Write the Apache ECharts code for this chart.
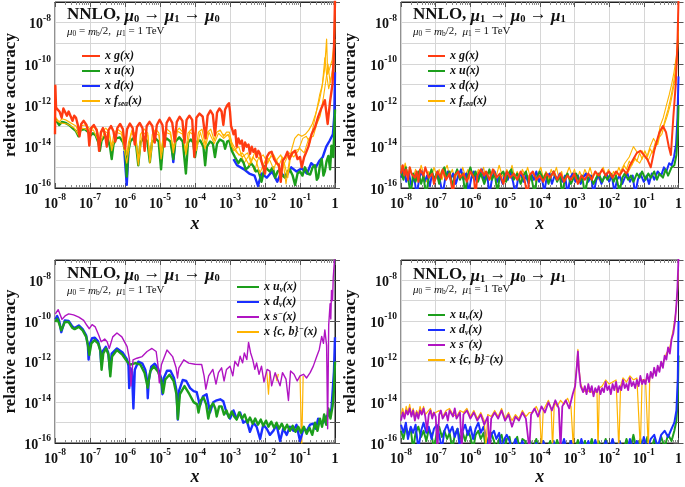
<!DOCTYPE html>
<html><head><meta charset="utf-8">
<script src="https://cdn.jsdelivr.net/npm/echarts@6/dist/echarts.min.js"></script>
<style>html,body{margin:0;padding:0;background:#fff}#c{width:685px;height:487px}</style>
</head><body><div id="c"></div>
<script>
// ---- data: [log10(x), log10(relative accuracy)] ----
const xTickExps = [-8,-7,-6,-5,-4,-3,-2,-1,0];
const yLabelExps = [-8,-10,-12,-14,-16];

// Top-left: mu0 -> mu1 -> mu0
const TL_xg = [[-8.00,-13.4],[-7.99,-11.05],[-7.97,-12.1],[-7.93,-12.2],[-7.87,-12.3],[-7.81,-12.6],[-7.76,-12.15],[-7.71,-12.15],[-7.66,-12.5],[-7.61,-12.3],[-7.56,-12.35],[-7.50,-12.75],[-7.45,-12.5],[-7.40,-12.6],[-7.34,-13.0],[-7.30,-13.5],[-7.25,-12.9],[-7.18,-12.75],[-7.10,-12.95],[-7.05,-13.3],[-7.02,-13.95],[-6.97,-13.1],[-6.89,-12.95],[-6.81,-13.2],[-6.77,-13.6],[-6.74,-14.2],[-6.69,-13.3],[-6.63,-13.1],[-6.57,-13.4],[-6.52,-14.0],[-6.47,-13.2],[-6.40,-13.0],[-6.33,-13.25],[-6.28,-13.75],[-6.22,-13.1],[-6.14,-12.9],[-6.06,-13.15],[-6.00,-14.1],[-5.94,-13.15],[-5.86,-12.88],[-5.78,-13.1],[-5.72,-13.9],[-5.66,-13.05],[-5.58,-12.85],[-5.50,-13.1],[-5.44,-14.2],[-5.38,-13.0],[-5.30,-12.8],[-5.22,-13.0],[-5.15,-13.8],[-5.09,-12.95],[-5.01,-12.7],[-4.93,-12.95],[-4.87,-14.0],[-4.81,-12.85],[-4.73,-12.6],[-4.65,-12.85],[-4.58,-13.75],[-4.52,-12.8],[-4.44,-12.55],[-4.36,-12.75],[-4.30,-13.8],[-4.24,-12.7],[-4.16,-12.5],[-4.08,-12.7],[-4.02,-14.5],[-3.96,-12.6],[-3.87,-12.4],[-3.78,-12.55],[-3.70,-13.6],[-3.64,-12.5],[-3.56,-12.25],[-3.49,-12.45],[-3.43,-13.45],[-3.37,-12.35],[-3.30,-12.15],[-3.24,-12.3],[-3.19,-12.95],[-3.14,-12.2],[-3.08,-12.0],[-3.03,-11.9],[-3.00,-12.3],[-2.97,-13.0],[-2.93,-13.2],[-2.90,-13.4],[-2.85,-13.2],[-2.81,-14.0],[-2.76,-13.6],[-2.71,-13.85],[-2.66,-13.7],[-2.62,-14.2],[-2.57,-13.8],[-2.52,-14.0],[-2.47,-13.9],[-2.43,-14.35],[-2.38,-14.0],[-2.33,-14.25],[-2.28,-14.1],[-2.24,-14.5],[-2.19,-14.2],[-2.14,-14.35],[-2.10,-14.7],[-2.05,-14.65],[-2.00,-15.3],[-1.95,-14.5],[-1.88,-14.3],[-1.81,-14.25],[-1.74,-14.6],[-1.67,-14.8],[-1.60,-14.9],[-1.55,-15.7],[-1.50,-14.7],[-1.42,-14.5],[-1.36,-14.25],[-1.30,-14.6],[-1.22,-14.3],[-1.14,-14.2],[-1.07,-14.6],[-1.00,-14.5],[-0.95,-15.0],[-0.88,-14.5],[-0.83,-14.3],[-0.76,-14.0],[-0.67,-13.4],[-0.57,-13.05],[-0.48,-12.55],[-0.38,-12.1],[-0.29,-11.75],[-0.21,-12.9],[-0.14,-11.8],[-0.07,-10.95],[-0.03,-9.35],[0,-6.9]];
const TL_xu = [[-8.0,-12.65],[-7.95,-12.7],[-7.88,-12.95],[-7.80,-12.8],[-7.70,-12.85],[-7.60,-12.95],[-7.50,-13.1],[-7.40,-13.25],[-7.33,-13.5],[-7.27,-13.2],[-7.15,-13.15],[-7.05,-13.3],[-6.98,-13.45],[-6.92,-13.35],[-6.84,-13.45],[-6.76,-13.8],[-6.72,-14.2],[-6.67,-13.7],[-6.58,-13.5],[-6.50,-13.6],[-6.43,-14.0],[-6.38,-14.6],[-6.33,-13.9],[-6.25,-13.6],[-6.15,-13.55],[-6.05,-13.8],[-5.99,-14.3],[-5.95,-15.45],[-5.91,-14.3],[-5.85,-13.75],[-5.77,-13.6],[-5.69,-13.8],[-5.62,-14.9],[-5.56,-13.8],[-5.46,-13.55],[-5.36,-13.75],[-5.29,-14.75],[-5.23,-13.8],[-5.13,-13.6],[-5.04,-13.75],[-4.97,-15.1],[-4.91,-13.8],[-4.81,-13.6],[-4.70,-13.75],[-4.62,-14.6],[-4.56,-13.75],[-4.45,-13.55],[-4.35,-13.75],[-4.26,-15.3],[-4.20,-13.8],[-4.12,-13.65],[-4.05,-13.8],[-4.00,-14.5],[-3.93,-13.75],[-3.85,-13.7],[-3.76,-14.0],[-3.71,-14.9],[-3.66,-14.0],[-3.57,-13.75],[-3.49,-13.85],[-3.43,-14.5],[-3.37,-13.85],[-3.29,-13.65],[-3.19,-13.75],[-3.14,-14.1],[-3.08,-13.75],[-3.02,-13.7],[-2.95,-14.2],[-2.86,-14.5],[-2.76,-14.8],[-2.69,-14.6],[-2.62,-14.75],[-2.55,-15.1],[-2.48,-15.0],[-2.40,-14.8],[-2.33,-14.95],[-2.26,-15.2],[-2.19,-15.15],[-2.10,-15.7],[-2.00,-14.95],[-1.93,-15.1],[-1.86,-15.2],[-1.78,-15.0],[-1.71,-15.5],[-1.64,-15.2],[-1.57,-15.1],[-1.50,-15.4],[-1.43,-15.5],[-1.36,-15.2],[-1.29,-15.1],[-1.21,-15.4],[-1.14,-15.85],[-1.07,-15.3],[-1.00,-15.2],[-0.93,-15.4],[-0.86,-15.0],[-0.78,-15.3],[-0.71,-15.35],[-0.64,-15.0],[-0.57,-14.9],[-0.52,-15.6],[-0.48,-15.5],[-0.43,-14.9],[-0.38,-14.6],[-0.33,-15.4],[-0.29,-15.2],[-0.24,-14.7],[-0.19,-14.45],[-0.14,-15.1],[-0.10,-13.95],[-0.05,-14.5],[-0.02,-13.2],[0,-12.2]];
const TL_xd = [[-6.02,-14.2],[-5.95,-15.85],[-5.90,-14.2],[-5.89,'-'],[-4.66,-14.0],[-4.62,-14.75],[-4.58,-14.0],[-4.57,'-'],[-2.90,-14.6],[-2.80,-14.9],[-2.60,-15.1],[-2.45,-15.3],[-2.30,-15.4],[-2.20,-15.9],[-2.10,-15.3],[-1.95,-15.5],[-1.80,-15.2],[-1.65,-15.7],[-1.55,-15.3],[-1.40,-15.45],[-1.25,-15.0],[-1.10,-15.2],[-0.95,-15.05],[-0.80,-15.3],[-0.68,-14.8],[-0.55,-15.0],[-0.45,-14.7],[-0.35,-14.5],[-0.25,-14.0],[-0.15,-13.7],[-0.06,-13.4],[-0.02,-12.5],[0,-10.4]];
const TL_sea1 = [[-8.0,-12.55],[-7.95,-12.55],[-7.88,-12.8],[-7.80,-12.65],[-7.70,-12.7],[-7.60,-12.8],[-7.50,-12.9],[-7.40,-13.0],[-7.33,-13.3],[-7.27,-13.0],[-7.15,-12.95],[-7.05,-13.05],[-6.98,-13.2],[-6.90,-13.05],[-6.80,-13.15],[-6.72,-13.7],[-6.66,-13.3],[-6.55,-13.1],[-6.45,-13.3],[-6.38,-14.0],[-6.32,-13.4],[-6.22,-13.15],[-6.10,-13.3],[-5.99,-13.9],[-5.95,-14.4],[-5.90,-13.8],[-5.80,-13.2],[-5.70,-13.4],[-5.62,-14.7],[-5.56,-13.4],[-5.45,-13.15],[-5.35,-13.35],[-5.29,-14.6],[-5.22,-13.4],[-5.12,-13.15],[-5.03,-13.35],[-4.97,-14.3],[-4.90,-13.4],[-4.80,-13.15],[-4.70,-13.3],[-4.62,-14.1],[-4.55,-13.3],[-4.45,-13.1],[-4.35,-13.3],[-4.26,-14.2],[-4.20,-13.35],[-4.10,-13.15],[-4.02,-13.35],[-3.96,-14.0],[-3.90,-13.3],[-3.80,-13.15],[-3.71,-13.9],[-3.64,-13.3],[-3.55,-13.15],[-3.45,-13.7],[-3.38,-13.3],[-3.28,-13.2],[-3.18,-13.5],[-3.10,-13.3],[-3.02,-13.3],[-2.95,-13.8],[-2.85,-14.1],[-2.75,-14.4],[-2.65,-14.3],[-2.55,-14.6],[-2.45,-14.9],[-2.35,-14.5],[-2.25,-14.7],[-2.15,-15.3],[-2.05,-14.9],[-1.95,-14.5],[-1.85,-14.7],[-1.75,-15.1],[-1.65,-14.6],[-1.55,-14.4],[-1.45,-14.8],[-1.35,-15.5],[-1.25,-14.2],[-1.15,-13.6],[-1.05,-13.4],[-0.95,-13.5],[-0.85,-13.4],[-0.75,-13.2],[-0.65,-12.9],[-0.55,-12.4],[-0.45,-11.8],[-0.38,-11.2],[-0.30,-10.3],[-0.24,-8.8],[-0.21,-10.5],[-0.15,-10.2],[-0.08,-9.8],[-0.03,-9.0],[0,-7.3]];
const TL_sea2 = [[-8.0,-12.7],[-7.85,-12.85],[-7.65,-12.9],[-7.45,-13.1],[-7.33,-13.45],[-7.22,-13.1],[-7.05,-13.2],[-6.90,-13.2],[-6.72,-13.9],[-6.58,-13.25],[-6.45,-13.4],[-6.38,-14.2],[-6.25,-13.3],[-6.10,-13.4],[-5.95,-14.8],[-5.82,-13.35],[-5.70,-13.5],[-5.62,-14.9],[-5.50,-13.3],[-5.35,-13.45],[-5.29,-14.8],[-5.17,-13.3],[-5.03,-13.45],[-4.97,-14.6],[-4.85,-13.3],[-4.70,-13.4],[-4.62,-14.3],[-4.50,-13.25],[-4.35,-13.4],[-4.26,-14.4],[-4.15,-13.3],[-4.02,-13.45],[-3.96,-14.2],[-3.85,-13.3],[-3.71,-14.1],[-3.60,-13.3],[-3.45,-13.85],[-3.33,-13.35],[-3.18,-13.6],[-3.05,-13.4],[-2.95,-14.0],[-2.80,-14.3],[-2.65,-14.5],[-2.50,-14.3],[-2.40,-14.8],[-2.30,-14.3],[-2.15,-14.6],[-2.00,-15.1],[-1.90,-14.6],[-1.75,-14.4],[-1.60,-14.9],[-1.50,-14.5],[-1.40,-15.8],[-1.30,-14.6],[-1.15,-14.2],[-1.00,-14.1],[-0.88,-14.3],[-0.75,-13.6],[-0.62,-13.5],[-0.52,-12.9],[-0.42,-12.5],[-0.33,-11.6],[-0.26,-10.8],[-0.20,-10.0],[-0.14,-10.9],[-0.08,-10.4],[-0.03,-9.5],[0,-8.0]];
const TL_sea3 = [[-3.2,-13.4],[-3.0,-13.5],[-2.9,-14.2],[-2.75,-14.0],[-2.6,-14.8],[-2.45,-14.4],[-2.3,-15.2],[-2.2,-14.6],[-2.05,-14.4],[-1.92,-14.8],[-1.8,-14.3],[-1.68,-14.7],[-1.55,-15.3],[-1.42,-14.7],[-1.3,-14.3],[-1.18,-14.5],[-1.05,-14.2],[-0.92,-13.6],[-0.82,-13.5],[-0.72,-13.8],[-0.62,-13.0],[-0.52,-12.2],[-0.44,-11.5],[-0.36,-11.0],[-0.29,-9.7],[-0.24,-10.5],[-0.18,-11.2],[-0.1,-10.6],[-0.04,-10.0],[0,-8.8]];

// Top-right: mu1 -> mu0 -> mu1
const TR_xg = [[-8.0,-15.3],[-7.95,-14.9],[-7.9,-15.4],[-7.85,-15.1],[-7.8,-15.6],[-7.75,-15.0],[-7.7,-15.3],[-7.6,-15.5],[-7.55,-15.2],[-7.5,-15.7],[-7.45,-15.1],[-7.35,-15.4],[-7.3,-15.0],[-7.2,-15.5],[-7.1,-15.3],[-7.05,-15.8],[-6.95,-15.2],[-6.85,-15.5],[-6.8,-15.1],[-6.7,-15.6],[-6.6,-15.3],[-6.5,-16.3],[-6.45,-15.4],[-6.35,-15.2],[-6.3,-15.5],[-6.2,-15.3],[-6.1,-15.7],[-6.0,-15.2],[-5.9,-15.5],[-5.85,-16.4],[-5.8,-15.4],[-5.7,-15.1],[-5.6,-15.4],[-5.55,-15.2],[-5.45,-15.6],[-5.35,-15.1],[-5.25,-15.5],[-5.15,-15.3],[-5.05,-15.8],[-4.95,-15.2],[-4.85,-15.5],[-4.75,-15.3],[-4.65,-15.6],[-4.55,-15.2],[-4.45,-15.5],[-4.35,-16.4],[-4.3,-15.4],[-4.2,-15.2],[-4.1,-15.6],[-4.0,-15.4],[-3.9,-15.7],[-3.8,-15.3],[-3.7,-15.5],[-3.6,-15.2],[-3.5,-15.6],[-3.4,-15.3],[-3.3,-15.7],[-3.2,-15.4],[-3.1,-15.6],[-3.0,-15.3],[-2.9,-15.8],[-2.8,-15.4],[-2.7,-15.6],[-2.6,-15.3],[-2.5,-15.6],[-2.4,-15.2],[-2.3,-15.4],[-2.2,-15.1],[-2.1,-15.4],[-2.0,-15.2],[-1.9,-15.5],[-1.8,-15.2],[-1.7,-15.4],[-1.6,-15.1],[-1.5,-15.3],[-1.4,-14.9],[-1.3,-14.6],[-1.2,-14.3],[-1.1,-14.2],[-1.0,-14.4],[-0.9,-14.6],[-0.8,-15.0],[-0.7,-14.2],[-0.62,-13.7],[-0.55,-13.3],[-0.45,-13.0],[-0.36,-13.3],[-0.28,-14.0],[-0.22,-14.4],[-0.15,-12.6],[-0.08,-11.0],[-0.03,-9.0],[0,-6.9]];
const TR_xu = [[-8.0,-15.2],[-7.93,-15.6],[-7.86,-15.0],[-7.8,-15.5],[-7.72,-16.3],[-7.65,-15.3],[-7.58,-15.7],[-7.5,-15.2],[-7.42,-15.8],[-7.35,-15.4],[-7.28,-16.4],[-7.2,-15.5],[-7.12,-15.1],[-7.05,-15.6],[-6.97,-15.3],[-6.9,-15.8],[-6.82,-15.2],[-6.75,-15.0],[-6.68,-15.5],[-6.6,-15.2],[-6.52,-15.9],[-6.45,-15.4],[-6.38,-15.1],[-6.3,-15.6],[-6.22,-15.3],[-6.15,-16.3],[-6.08,-15.4],[-6.0,-15.0],[-5.92,-15.5],[-5.85,-15.2],[-5.78,-15.7],[-5.7,-15.3],[-5.6,-15.8],[-5.52,-15.4],[-5.45,-15.1],[-5.38,-15.6],[-5.3,-15.3],[-5.22,-16.2],[-5.15,-15.4],[-5.05,-15.2],[-4.97,-15.7],[-4.9,-15.3],[-4.82,-15.1],[-4.75,-15.6],[-4.65,-15.3],[-4.55,-15.8],[-4.47,-15.4],[-4.4,-15.2],[-4.32,-15.7],[-4.25,-15.4],[-4.15,-16.3],[-4.08,-15.5],[-4.0,-15.2],[-3.9,-15.6],[-3.82,-15.3],[-3.75,-15.8],[-3.67,-15.4],[-3.6,-15.2],[-3.5,-15.7],[-3.42,-15.4],[-3.35,-16.3],[-3.27,-15.5],[-3.2,-15.3],[-3.1,-15.8],[-3.02,-15.5],[-2.95,-15.3],[-2.85,-15.7],[-2.78,-15.4],[-2.7,-16.3],[-2.62,-15.6],[-2.55,-15.4],[-2.45,-15.8],[-2.37,-15.5],[-2.3,-15.3],[-2.2,-15.7],[-2.12,-15.4],[-2.05,-15.6],[-1.95,-15.3],[-1.87,-15.7],[-1.8,-15.4],[-1.7,-16.2],[-1.62,-15.5],[-1.55,-15.3],[-1.45,-15.6],[-1.37,-15.4],[-1.3,-15.7],[-1.2,-15.3],[-1.12,-15.5],[-1.05,-15.2],[-0.95,-15.6],[-0.87,-15.3],[-0.8,-15.5],[-0.7,-15.2],[-0.62,-15.6],[-0.55,-15.3],[-0.45,-15.5],[-0.37,-15.1],[-0.3,-15.4],[-0.2,-15.0],[-0.12,-14.9],[-0.06,-14.4],[-0.02,-13.3],[0,-12.0]];
const TR_xd = [[-8.0,-15.5],[-7.92,-15.1],[-7.85,-15.7],[-7.77,-15.3],[-7.7,-15.9],[-7.62,-15.4],[-7.55,-16.4],[-7.47,-15.5],[-7.4,-15.2],[-7.32,-15.7],[-7.25,-15.4],[-7.17,-15.9],[-7.1,-15.3],[-7.02,-15.6],[-6.95,-15.2],[-6.87,-15.7],[-6.8,-16.3],[-6.72,-15.5],[-6.65,-15.2],[-6.57,-15.6],[-6.5,-15.3],[-6.42,-15.8],[-6.35,-15.4],[-6.27,-15.1],[-6.2,-15.6],[-6.12,-15.3],[-6.05,-16.2],[-5.97,-15.5],[-5.9,-15.2],[-5.82,-15.7],[-5.75,-15.4],[-5.67,-15.1],[-5.6,-15.6],[-5.52,-15.3],[-5.45,-16.3],[-5.37,-15.5],[-5.3,-15.2],[-5.22,-15.7],[-5.15,-15.4],[-5.07,-15.8],[-5.0,-15.3],[-4.92,-15.6],[-4.85,-15.2],[-4.77,-15.7],[-4.7,-16.3],[-4.62,-15.5],[-4.55,-15.3],[-4.47,-15.7],[-4.4,-15.4],[-4.32,-15.8],[-4.25,-15.3],[-4.17,-15.6],[-4.1,-15.2],[-4.02,-15.7],[-3.95,-15.4],[-3.87,-16.2],[-3.8,-15.5],[-3.72,-15.3],[-3.65,-15.8],[-3.57,-15.4],[-3.5,-15.6],[-3.42,-15.3],[-3.35,-15.7],[-3.27,-15.4],[-3.2,-16.3],[-3.12,-15.5],[-3.05,-15.3],[-2.97,-15.7],[-2.9,-15.4],[-2.82,-15.8],[-2.75,-15.5],[-2.67,-15.3],[-2.6,-15.7],[-2.52,-15.4],[-2.45,-16.3],[-2.37,-15.6],[-2.3,-15.4],[-2.22,-15.8],[-2.15,-15.5],[-2.07,-15.3],[-2.0,-15.7],[-1.92,-15.4],[-1.85,-16.2],[-1.77,-15.6],[-1.7,-15.4],[-1.62,-15.8],[-1.55,-15.5],[-1.47,-15.3],[-1.4,-15.7],[-1.32,-15.4],[-1.25,-16.3],[-1.17,-15.6],[-1.1,-15.3],[-1.0,-15.7],[-0.92,-15.4],[-0.85,-15.8],[-0.77,-15.3],[-0.7,-15.6],[-0.6,-15.2],[-0.5,-15.4],[-0.42,-15.0],[-0.35,-15.2],[-0.27,-14.8],[-0.2,-14.9],[-0.13,-14.5],[-0.07,-13.9],[-0.03,-12.6],[0,-10.6]];
const TR_sea1 = [[-8.0,-14.9],[-7.94,-15.3],[-7.88,-14.8],[-7.8,-15.4],[-7.73,-15.0],[-7.66,-15.6],[-7.58,-15.1],[-7.5,-15.5],[-7.42,-14.9],[-7.35,-15.3],[-7.27,-15.7],[-7.2,-15.2],[-7.12,-15.5],[-7.05,-15.0],[-6.97,-15.4],[-6.9,-15.1],[-6.82,-15.6],[-6.75,-15.2],[-6.67,-14.9],[-6.6,-15.4],[-6.52,-15.1],[-6.45,-15.6],[-6.37,-15.2],[-6.3,-15.5],[-6.22,-15.0],[-6.15,-15.4],[-6.07,-15.1],[-6.0,-15.7],[-5.92,-15.2],[-5.85,-15.5],[-5.77,-15.1],[-5.7,-15.4],[-5.62,-15.0],[-5.55,-15.6],[-5.47,-15.2],[-5.4,-15.5],[-5.32,-15.1],[-5.25,-15.4],[-5.17,-14.9],[-5.1,-15.3],[-5.02,-15.6],[-4.95,-15.1],[-4.87,-15.4],[-4.8,-14.9],[-4.72,-15.5],[-4.65,-15.2],[-4.57,-15.6],[-4.5,-15.1],[-4.42,-15.4],[-4.35,-15.0],[-4.27,-15.5],[-4.2,-15.2],[-4.12,-15.7],[-4.05,-15.3],[-3.97,-15.0],[-3.9,-15.5],[-3.82,-15.2],[-3.75,-15.6],[-3.67,-15.1],[-3.6,-15.4],[-3.52,-15.0],[-3.45,-15.5],[-3.37,-15.2],[-3.3,-15.7],[-3.22,-15.3],[-3.15,-15.0],[-3.07,-15.4],[-3.0,-15.1],[-2.92,-15.6],[-2.85,-15.2],[-2.77,-15.5],[-2.7,-15.1],[-2.62,-15.4],[-2.55,-15.0],[-2.47,-15.5],[-2.4,-15.2],[-2.32,-15.6],[-2.25,-15.3],[-2.17,-15.0],[-2.1,-15.4],[-2.02,-15.1],[-1.95,-15.5],[-1.87,-15.2],[-1.8,-15.4],[-1.72,-15.0],[-1.65,-15.3],[-1.57,-14.9],[-1.5,-15.1],[-1.42,-14.7],[-1.35,-14.9],[-1.27,-14.5],[-1.2,-14.7],[-1.12,-14.3],[-1.05,-14.6],[-0.97,-14.2],[-0.9,-14.5],[-0.82,-14.1],[-0.75,-14.3],[-0.67,-13.8],[-0.6,-13.9],[-0.52,-13.3],[-0.45,-13.1],[-0.37,-12.6],[-0.3,-12.2],[-0.22,-11.6],[-0.15,-11.0],[-0.08,-10.2],[-0.03,-9.2],[0,-7.8]];
const TR_sea2 = [[-1.7,-15.3],[-1.55,-14.8],[-1.42,-14.5],[-1.3,-14.0],[-1.18,-14.3],[-1.05,-14.2],[-0.93,-14.6],[-0.82,-14.0],[-0.72,-13.6],[-0.62,-13.9],[-0.53,-13.0],[-0.44,-12.6],[-0.35,-12.0],[-0.27,-11.5],[-0.2,-11.0],[-0.13,-10.4],[-0.06,-9.6],[-0.02,-8.6],[0,-7.5]];
const TR_sea3 = [[-1.5,-15.4],[-1.38,-15.0],[-1.25,-14.6],[-1.12,-14.8],[-1.0,-14.4],[-0.88,-14.7],[-0.78,-14.3],[-0.68,-14.1],[-0.58,-13.6],[-0.48,-13.4],[-0.4,-12.9],[-0.32,-12.5],[-0.24,-12.0],[-0.17,-11.4],[-0.1,-10.7],[-0.04,-9.8],[0,-8.4]];

// Bottom-left: mu0 -> mu1 -> mu0 (valence / minus)
const BL_xuv = [[-7.99,-10.05],[-7.94,-9.89],[-7.88,-10.13],[-7.82,-10.46],[-7.72,-10.05],[-7.61,-10.05],[-7.51,-10.33],[-7.44,-10.4],[-7.32,-10.29],[-7.21,-10.46],[-7.11,-10.78],[-7.06,-11.18],[-7.02,-11.67],[-6.96,-11.1],[-6.87,-10.94],[-6.77,-11.1],[-6.70,-11.5],[-6.67,-12.4],[-6.62,-11.59],[-6.54,-11.35],[-6.47,-11.67],[-6.42,-12.72],[-6.37,-11.75],[-6.23,-11.43],[-6.07,-11.67],[-5.94,-11.99],[-5.85,-12.15],[-5.70,-12.07],[-5.56,-12.15],[-5.44,-12.56],[-5.35,-13.28],[-5.28,-12.48],[-5.18,-12.23],[-5.06,-12.48],[-4.96,-12.96],[-4.91,-13.53],[-4.85,-12.88],[-4.73,-12.64],[-4.61,-12.96],[-4.53,-13.6],[-4.49,-14.82],[-4.43,-13.6],[-4.30,-13.2],[-4.16,-13.6],[-4.04,-13.99],[-3.94,-14.1],[-3.90,-14.5],[-3.83,-13.9],[-3.76,-13.75],[-3.68,-14.1],[-3.62,-14.8],[-3.55,-14.2],[-3.48,-14.05],[-3.42,-14.3],[-3.38,-14.7],[-3.31,-14.2],[-3.24,-14.2],[-3.17,-14.6],[-3.10,-14.4],[-3.03,-14.75],[-2.95,-14.45],[-2.88,-14.7],[-2.81,-14.85],[-2.74,-14.5],[-2.66,-14.8],[-2.58,-14.6],[-2.50,-15.0],[-2.43,-14.75],[-2.35,-15.05],[-2.28,-14.8],[-2.20,-15.1],[-2.12,-14.85],[-2.05,-15.15],[-1.97,-14.9],[-1.90,-15.2],[-1.82,-14.95],[-1.74,-15.25],[-1.67,-15.0],[-1.60,-15.3],[-1.52,-15.05],[-1.44,-15.35],[-1.37,-15.1],[-1.29,-15.4],[-1.21,-15.15],[-1.13,-15.45],[-1.05,-15.2],[-0.97,-15.5],[-0.89,-15.2],[-0.81,-15.55],[-0.73,-15.25],[-0.65,-15.6],[-0.57,-15.0],[-0.50,-15.4],[-0.43,-14.8],[-0.37,-15.2],[-0.31,-14.6],[-0.25,-15.1],[-0.19,-14.3],[-0.13,-14.8],[-0.07,-14.2],[-0.03,-13.4],[0,-12.0]];
const BL_xdv = [[-7.99,-9.93],[-7.94,-9.75],[-7.88,-10.0],[-7.82,-10.55],[-7.72,-9.97],[-7.61,-10.0],[-7.51,-10.25],[-7.44,-10.35],[-7.32,-10.22],[-7.21,-10.4],[-7.11,-10.7],[-7.06,-11.2],[-7.04,-11.9],[-7.00,-11.1],[-6.94,-10.85],[-6.86,-10.82],[-6.77,-11.0],[-6.71,-11.4],[-6.68,-12.1],[-6.64,-11.5],[-6.55,-11.27],[-6.48,-11.55],[-6.43,-12.4],[-6.38,-11.6],[-6.23,-11.35],[-6.07,-11.55],[-5.94,-11.9],[-5.90,-12.2],[-5.88,-13.3],[-5.85,-12.3],[-5.80,-12.5],[-5.76,-14.3],[-5.72,-12.4],[-5.62,-12.0],[-5.50,-12.1],[-5.42,-12.4],[-5.37,-12.9],[-5.35,-13.8],[-5.32,-12.9],[-5.25,-12.25],[-5.15,-12.1],[-5.05,-12.35],[-4.97,-12.8],[-4.93,-13.6],[-4.89,-12.8],[-4.80,-12.45],[-4.70,-12.45],[-4.60,-12.8],[-4.53,-13.4],[-4.49,-14.85],[-4.45,-13.4],[-4.35,-12.9],[-4.25,-12.95],[-4.14,-13.3],[-4.04,-13.45],[-3.95,-13.5],[-3.86,-14.16],[-3.77,-13.7],[-3.67,-13.6],[-3.57,-14.5],[-3.48,-14.0],[-3.38,-13.9],[-3.28,-13.85],[-3.19,-13.95],[-3.10,-14.5],[-3.00,-14.8],[-2.90,-14.4],[-2.81,-14.8],[-2.71,-14.5],[-2.62,-15.0],[-2.52,-14.9],[-2.43,-15.45],[-2.33,-15.0],[-2.24,-15.2],[-2.14,-15.8],[-2.05,-15.1],[-1.95,-15.3],[-1.86,-15.6],[-1.76,-15.4],[-1.67,-15.1],[-1.57,-15.9],[-1.48,-15.3],[-1.38,-15.6],[-1.29,-15.2],[-1.19,-15.4],[-1.10,-15.1],[-1.00,-15.9],[-0.90,-15.3],[-0.81,-15.4],[-0.71,-15.1],[-0.62,-15.05],[-0.55,-15.3],[-0.48,-14.8],[-0.40,-15.0],[-0.33,-15.0],[-0.26,-14.7],[-0.19,-14.64],[-0.10,-14.3],[-0.03,-12.5],[0,-10.8]];
const BL_xsm = [[-7.99,-9.65],[-7.91,-9.44],[-7.88,-9.57],[-7.80,-9.92],[-7.70,-9.73],[-7.61,-9.65],[-7.47,-9.70],[-7.32,-9.81],[-7.18,-9.97],[-7.09,-10.21],[-7.02,-10.38],[-6.94,-10.18],[-6.85,-10.29],[-6.75,-10.7],[-6.68,-11.02],[-6.58,-10.89],[-6.51,-11.02],[-6.45,-11.35],[-6.35,-10.78],[-6.23,-10.59],[-6.09,-10.78],[-5.94,-11.26],[-5.87,-11.91],[-5.83,-13.2],[-5.77,-11.91],[-5.66,-11.83],[-5.51,-11.75],[-5.37,-11.5],[-5.23,-11.35],[-5.11,-11.5],[-5.06,-12.15],[-5.02,-13.04],[-4.96,-12.15],[-4.80,-11.43],[-4.64,-11.75],[-4.54,-12.3],[-4.50,-12.8],[-4.46,-12.3],[-4.32,-11.91],[-4.18,-12.07],[-4.00,-12.13],[-3.81,-12.14],[-3.74,-12.7],[-3.69,-13.35],[-3.61,-12.7],[-3.49,-12.38],[-3.40,-13.1],[-3.33,-12.54],[-3.24,-12.3],[-3.17,-12.95],[-3.10,-12.38],[-3.00,-12.22],[-2.92,-12.7],[-2.86,-11.98],[-2.77,-12.22],[-2.71,-11.73],[-2.64,-12.06],[-2.59,-11.57],[-2.52,-11.9],[-2.47,-11.05],[-2.41,-11.57],[-2.35,-11.9],[-2.29,-12.38],[-2.24,-12.06],[-2.17,-12.62],[-2.10,-12.22],[-2.03,-13.0],[-1.94,-12.38],[-1.86,-12.46],[-1.81,-13.19],[-1.71,-12.54],[-1.64,-12.86],[-1.57,-13.19],[-1.50,-12.54],[-1.40,-12.86],[-1.33,-13.91],[-1.27,-12.46],[-1.17,-12.62],[-1.08,-12.95],[-1.00,-12.7],[-0.90,-12.62],[-0.81,-12.8],[-0.71,-12.54],[-0.62,-12.22],[-0.52,-11.73],[-0.45,-11.41],[-0.38,-10.76],[-0.33,-11.1],[-0.29,-10.44],[-0.24,-11.2],[-0.21,-15.3],[-0.18,-10.2],[-0.14,-9.15],[-0.12,-9.9],[-0.10,-8.5],[-0.07,-9.0],[-0.05,-7.85],[-0.01,-6.9]];
const BL_xcbm = [[-1.95,-12.5],[-1.90,-13.6],[-1.86,-12.5],[-1.85,'-'],[-1.70,-12.6],[-1.66,-12.95],[-1.62,-12.6],[-1.61,'-'],[-1.00,-12.7],[-0.95,-16.2],[-0.91,-12.7]];

// Bottom-right: mu1 -> mu0 -> mu1 (valence / minus)
const BR_xuv = [[-8.0,-15.4],[-7.93,-15.8],[-7.86,-15.2],[-7.8,-15.6],[-7.72,-15.3],[-7.65,-16.3],[-7.58,-15.5],[-7.5,-15.2],[-7.42,-15.7],[-7.35,-15.4],[-7.27,-15.9],[-7.2,-15.3],[-7.12,-15.6],[-7.05,-16.3],[-6.97,-15.5],[-6.9,-15.2],[-6.82,-15.7],[-6.75,-15.4],[-6.67,-15.8],[-6.6,-15.5],[-6.52,-16.3],[-6.45,-15.6],[-6.37,-15.3],[-6.3,-15.8],[-6.22,-15.5],[-6.15,-15.9],[-6.07,-15.4],[-6.0,-15.7],[-5.92,-16.3],[-5.85,-15.6],[-5.77,-15.4],[-5.7,-15.8],[-5.62,-15.5],[-5.55,-16.3],[-5.47,-15.7],[-5.4,-15.5],[-5.32,-15.9],[-5.25,-16.4],[-5.17,-15.8],[-5.1,-15.6],[-5.02,-16.3],[-4.95,-15.8],[-4.87,-15.7],[-4.8,-16.4],[-4.72,-15.9],[-4.65,-15.7],[-4.57,-16.4],[-4.5,-15.8],[-4.42,-15.9],[-4.35,-16.5],[-4.27,-15.9],[-4.2,-16.4],[-4.1,-15.8],[-4.0,-16.5],[-3.9,-15.9],[-3.8,-16.4],[-3.7,-15.9],[-3.6,-16.5],[-3.5,-15.85],[-3.4,-16.4],[-3.3,-15.9],[-3.2,-16.5],[-3.1,-15.9],[-3.0,-16.4],[-2.9,-15.85],[-2.8,-16.5],[-2.7,-15.9],[-2.6,-16.4],[-2.5,-15.8],[-2.4,-16.5],[-2.3,-15.9],[-2.2,-16.4],[-2.1,-15.8],[-2.0,-16.5],[-1.9,-15.85],[-1.8,-16.4],[-1.7,-15.9],[-1.6,-16.5],[-1.5,-15.8],[-1.4,-16.4],[-1.3,-15.6],[-1.2,-16.4],[-1.1,-15.8],[-1.0,-16.5],[-0.9,-15.7],[-0.8,-16.4],[-0.7,-15.8],[-0.6,-16.3],[-0.5,-15.7],[-0.4,-16.2],[-0.3,-15.6],[-0.2,-15.9],[-0.12,-15.4],[-0.06,-14.9],[-0.02,-13.8],[0,-11.7]];
const BR_xdv = [[-8.0,-15.1],[-7.93,-15.5],[-7.86,-15.0],[-7.8,-15.8],[-7.72,-15.2],[-7.65,-15.5],[-7.58,-15.1],[-7.5,-16.3],[-7.42,-15.4],[-7.35,-15.0],[-7.27,-15.5],[-7.2,-15.2],[-7.12,-15.8],[-7.05,-15.3],[-6.97,-15.1],[-6.9,-15.6],[-6.82,-16.3],[-6.75,-15.4],[-6.67,-15.1],[-6.6,-15.5],[-6.52,-15.2],[-6.45,-15.7],[-6.37,-15.3],[-6.3,-16.3],[-6.22,-15.4],[-6.15,-15.1],[-6.07,-15.6],[-6.0,-15.2],[-5.92,-15.8],[-5.85,-15.3],[-5.77,-15.0],[-5.7,-15.5],[-5.62,-15.2],[-5.55,-15.7],[-5.47,-16.3],[-5.4,-15.6],[-5.32,-15.4],[-5.25,-15.8],[-5.17,-15.5],[-5.1,-16.4],[-5.02,-15.8],[-4.95,-15.6],[-4.87,-15.9],[-4.8,-16.4],[-4.7,-15.8],[-4.6,-16.4],[-4.5,-15.9],[-4.4,-16.5],[-4.3,-15.9],[-4.2,-16.5],[-4.1,-16.0],[-4.0,-16.5],[-3.9,-15.9],[-3.8,-16.4],[-3.7,-16.5],[-3.6,-15.9],[-3.5,-16.5],[-3.4,-16.4],[-3.3,-15.8],[-3.2,-16.5],[-3.1,-15.9],[-3.0,-16.4],[-2.9,-16.5],[-2.8,-15.8],[-2.7,-16.4],[-2.6,-15.9],[-2.5,-16.5],[-2.4,-15.85],[-2.3,-16.4],[-2.2,-16.5],[-2.1,-15.9],[-2.0,-16.4],[-1.9,-15.8],[-1.8,-16.5],[-1.7,-15.9],[-1.6,-16.4],[-1.5,-16.5],[-1.4,-15.8],[-1.3,-16.4],[-1.2,-15.9],[-1.1,-16.5],[-1.0,-15.7],[-0.9,-16.3],[-0.8,-15.8],[-0.7,-15.6],[-0.6,-16.2],[-0.5,-15.6],[-0.4,-15.4],[-0.3,-15.7],[-0.2,-15.3],[-0.12,-15.0],[-0.06,-14.4],[-0.02,-12.8],[0,-10.0]];
const BR_xsm = [[-8.0,-14.9],[-7.95,-14.5],[-7.9,-14.8],[-7.85,-14.4],[-7.8,-14.6],[-7.75,-14.3],[-7.7,-14.7],[-7.65,-14.4],[-7.6,-14.9],[-7.55,-14.5],[-7.5,-14.8],[-7.45,-14.4],[-7.4,-14.6],[-7.35,-14.3],[-7.3,-14.7],[-7.25,-15.4],[-7.2,-14.6],[-7.15,-14.4],[-7.1,-14.8],[-7.05,-14.5],[-7.0,-14.7],[-6.95,-16.3],[-6.9,-14.6],[-6.85,-14.4],[-6.8,-14.8],[-6.7,-14.5],[-6.65,-14.9],[-6.6,-14.4],[-6.5,-14.7],[-6.45,-14.3],[-6.4,-14.8],[-6.3,-14.5],[-6.25,-16.2],[-6.2,-14.6],[-6.1,-14.4],[-6.0,-14.8],[-5.9,-14.5],[-5.8,-14.9],[-5.7,-14.6],[-5.6,-15.1],[-5.5,-14.7],[-5.45,-16.3],[-5.4,-14.8],[-5.3,-14.5],[-5.2,-14.8],[-5.1,-14.4],[-5.0,-14.9],[-4.9,-14.6],[-4.8,-15.2],[-4.7,-14.7],[-4.6,-14.9],[-4.5,-14.5],[-4.4,-14.8],[-4.3,-16.3],[-4.25,-14.6],[-4.15,-14.3],[-4.05,-14.7],[-3.95,-14.2],[-3.85,-14.5],[-3.75,-14.0],[-3.65,-14.4],[-3.55,-13.9],[-3.45,-14.3],[-3.4,-16.3],[-3.35,-14.2],[-3.25,-13.9],[-3.15,-14.3],[-3.05,-13.6],[-2.98,-13.2],[-2.93,-12.2],[-2.90,-11.5],[-2.87,-12.4],[-2.82,-13.2],[-2.75,-13.5],[-2.7,-13.2],[-2.65,-13.6],[-2.6,-13.1],[-2.55,-13.5],[-2.5,-13.2],[-2.45,-13.7],[-2.4,-13.3],[-2.35,-13.5],[-2.3,-13.2],[-2.25,-13.6],[-2.2,-13.3],[-2.15,-13.5],[-2.1,-13.0],[-2.05,-13.4],[-2.0,-13.2],[-1.95,-13.6],[-1.9,-13.1],[-1.85,-13.4],[-1.8,-13.0],[-1.75,-13.5],[-1.7,-13.2],[-1.65,-13.4],[-1.6,-12.9],[-1.55,-13.3],[-1.5,-13.1],[-1.45,-13.4],[-1.4,-12.8],[-1.35,-13.2],[-1.3,-13.0],[-1.25,-13.3],[-1.2,-12.9],[-1.15,-13.2],[-1.1,-12.7],[-1.05,-13.1],[-1.0,-12.9],[-0.95,-13.1],[-0.9,-12.6],[-0.85,-13.0],[-0.8,-12.5],[-0.75,-12.8],[-0.7,-12.3],[-0.65,-12.7],[-0.6,-12.2],[-0.55,-12.5],[-0.5,-12.0],[-0.45,-12.3],[-0.4,-11.7],[-0.35,-11.9],[-0.3,-11.3],[-0.25,-11.6],[-0.2,-10.9],[-0.15,-10.6],[-0.1,-10.0],[-0.06,-9.2],[-0.03,-8.3],[0,-6.9]];
const BR_xcbm = [[-8.0,-14.6],[-7.95,-14.3],[-7.9,-14.7],[-7.85,-14.2],[-7.8,-14.5],[-7.75,-14.1],[-7.7,-14.6],[-7.65,-14.3],[-7.6,-14.7],[-7.55,-14.4],[-7.5,-14.6],[-7.45,-14.2],[-7.4,-14.5],[-7.35,-14.2],[-7.3,-14.6],[-7.2,-14.4],[-7.15,-14.3],[-7.1,-14.6],[-7.0,-14.5],[-6.9,-14.4],[-6.8,-14.7],[-6.7,-14.4],[-6.6,-14.3],[-6.5,-14.6],[-6.4,-14.7],[-6.3,-14.4],[-6.2,-14.5],[-6.1,-14.3],[-6.0,-14.7],[-5.9,-14.4],[-5.8,-14.8],[-5.7,-14.5],[-5.6,-14.9],[-5.55,-16.3],[-5.5,-14.6],[-5.4,-14.7],[-5.3,-14.4],[-5.2,-14.7],[-5.1,-14.3],[-5.0,-14.8],[-4.9,-14.5],[-4.8,-14.9],[-4.7,-14.6],[-4.6,-14.8],[-4.5,-14.4],[-4.4,-14.7],[-4.3,-14.5],[-4.2,-14.5],[-4.1,-14.2],[-4.0,-14.6],[-3.95,-16.3],[-3.9,-14.4],[-3.85,-14.4],[-3.75,-13.9],[-3.67,-14.3],[-3.63,-16.3],[-3.58,-14.0],[-3.5,-14.2],[-3.4,-13.9],[-3.3,-14.1],[-3.2,-13.8],[-3.1,-14.2],[-3.03,-16.3],[-2.98,-13.1],[-2.93,-12.1],[-2.90,-11.4],[-2.87,-12.3],[-2.82,-13.1],[-2.75,-13.4],[-2.65,-13.5],[-2.55,-13.4],[-2.45,-13.6],[-2.35,-13.4],[-2.32,-16.3],[-2.28,-13.3],[-2.2,-13.2],[-2.1,-12.9],[-2.0,-13.1],[-1.9,-13.0],[-1.8,-12.9],[-1.72,-16.3],[-1.67,-13.2],[-1.6,-12.8],[-1.5,-13.0],[-1.4,-12.7],[-1.3,-12.9],[-1.2,-12.8],[-1.1,-16.3],[-1.05,-12.9],[-0.95,-12.9],[-0.87,-16.3],[-0.83,-12.8],[-0.75,-12.6],[-0.65,-12.5],[-0.55,-12.3],[-0.45,-12.1],[-0.35,-11.6],[-0.25,-11.3],[-0.15,-10.4],[-0.08,-9.6],[-0.03,-8.6],[0,-7.5]];

// ---- styling ----
const SERIF = '"Liberation Serif","DejaVu Serif",serif';
const C = {red:'#ff3b12', green:'#1c9e1c', blue:'#1a2eff', orange:'#ffb400', mag:'#b014c2'};
const GRIDS = [
  {left:55, top:2, width:280, height:186},
  {left:401, top:2, width:279, height:186},
  {left:55, top:260, width:280, height:186},
  {left:401, top:260, width:279, height:186}
];
// minor tick positions of a log10 axis (2..9 within each decade)
const minorTicks = [];
xTickExps.slice(0, -1).forEach(e => { for (let k = 2; k <= 9; k++) minorTicks.push(e + Math.log10(k)); });

const LBL = {
  g:'x g(x)', u:'x u(x)', d:'x d(x)', s:'x f{d|sea}(x)',
  uv:'x u{d|v}(x)', dv:'x d{d|v}(x)', sm:'x s{u|−}(x)', cb:'x {c, b}{u|−}(x)'
};
const tickRich = {
  b:{fontFamily:SERIF, fontWeight:'bold', fontSize:14, color:'#111', lineHeight:18, verticalAlign:'bottom'},
  s:{fontFamily:SERIF, fontWeight:'bold', fontSize:9.5, color:'#111', lineHeight:10, verticalAlign:'top'}
};
function xLabel(v){ return v === 0 ? '{b|1}' : '{b|10}{s|' + (v<0?'-':'') + Math.abs(v) + '}'; }
function yLabel(v){ return yLabelExps.indexOf(Math.round(v)) >= 0 && Math.abs(v-Math.round(v))<1e-6 ? '{b|10}{s|-' + Math.abs(Math.round(v)) + '}' : ''; }

const xAxis = [], yAxis = [];
GRIDS.forEach((g, gi) => {
  const bottomRow = gi >= 2;
  const rightCol = gi % 2 === 1;
  xAxis.push({type:'value', gridIndex:gi, min:-8, max:0, interval:1, position:'bottom',
    axisLine:{show:true, lineStyle:{color:'#222', width:1}},
    axisTick:{show:true, inside:true, length:5, lineStyle:{color:'#555'}},
    splitLine:{show:true, lineStyle:{color:'#d6d6d6', width:1}},
    axisLabel:{margin:5, formatter:xLabel, rich:tickRich},
    name:'x', nameLocation:'middle', nameGap: bottomRow ? 25 : 27,
    nameTextStyle:{fontFamily:SERIF, fontStyle:'italic', fontWeight:'bold', fontSize:18, color:'#111'}});
  xAxis.push({type:'value', gridIndex:gi, min:-8, max:0, interval:1, position:'top',
    axisLine:{show:true, lineStyle:{color:'#222', width:1}},
    axisTick:{show:true, inside:true, length:5, lineStyle:{color:'#555'}},
    splitLine:{show:false}, axisLabel:{show:false}});
  xAxis.push({type:'value', gridIndex:gi, min:-8, max:0, position:'bottom', offset:0,
    axisLine:{show:false}, splitLine:{show:false}, axisLabel:{show:false},
    axisTick:{show:true, inside:true, length:3, customValues:minorTicks, lineStyle:{color:'#8a8a8a'}}});
  xAxis.push({type:'value', gridIndex:gi, min:-8, max:0, position:'top', offset:0,
    axisLine:{show:false}, splitLine:{show:false}, axisLabel:{show:false},
    axisTick:{show:true, inside:true, length:3, customValues:minorTicks, lineStyle:{color:'#8a8a8a'}}});
  yAxis.push({type:'value', gridIndex:gi, min:-16, max:-7, interval:1, position:'left',
    axisLine:{show:true, lineStyle:{color:'#222', width:1}},
    axisTick:{show:true, inside:true, length:5, lineStyle:{color:'#555'}},
    splitLine:{show:true, lineStyle:{color:'#d6d6d6', width:1}},
    axisLabel:{margin:4, formatter:yLabel, rich:tickRich},
    name:'relative accuracy', nameLocation:'middle', nameGap: rightCol ? 42 : 36,
    nameTextStyle:{fontFamily:SERIF, fontWeight:'bold', fontSize:17, color:'#111'}});
  yAxis.push({type:'value', gridIndex:gi, min:-16, max:-7, interval:1, position:'right',
    axisLine:{show:true, lineStyle:{color:'#222', width:1}},
    axisTick:{show:true, inside:true, length:5, lineStyle:{color:'#555'}},
    splitLine:{show:false}, axisLabel:{show:false}});
});

function S(name, gi, data, color, w){
  return {type:'line', name:name, xAxisIndex:gi*4, yAxisIndex:gi*2, data:data,
    symbol:'none', showSymbol:false, connectNulls:false, clip:true, silent:true,
    lineStyle:{color:color, width:w, join:'round'}, itemStyle:{color:color}, animation:false};
}
const series = [
  S('0s3',0,TL_sea3,C.orange,1.1), S('0d',0,TL_xd,C.blue,2.4), S('0u',0,TL_xu,C.green,2.4),
  S('0s2',0,TL_sea2,C.orange,1.1), S('0s',0,TL_sea1,C.orange,1.2), S('0g',0,TL_xg,C.red,2.4),
  S('1s3',1,TR_sea3,C.orange,1.1), S('1s2',1,TR_sea2,C.orange,1.1), S('1s',1,TR_sea1,C.orange,1.2),
  S('1d',1,TR_xd,C.blue,2.0), S('1u',1,TR_xu,C.green,2.0), S('1g',1,TR_xg,C.red,2.0),
  S('2cb',2,BL_xcbm,C.orange,1.2), S('2dv',2,BL_xdv,C.blue,2.4), S('2uv',2,BL_xuv,C.green,2.4), S('2sm',2,BL_xsm,C.mag,1.4),
  S('3uv',3,BR_xuv,C.green,2.0), S('3dv',3,BR_xdv,C.blue,2.0), S('3cb',3,BR_xcbm,C.orange,1.2), S('3sm',3,BR_xsm,C.mag,1.8)
];

const legRich = {
  d:{fontFamily:SERIF, fontStyle:'italic', fontWeight:'bold', fontSize:7.5, color:'#111', lineHeight:12, verticalAlign:'bottom'},
  u:{fontFamily:SERIF, fontWeight:'bold', fontSize:8, color:'#111', lineHeight:8, verticalAlign:'top'}
};
function LEG(names, left, top, w){
  return {data:names, left:left, top:top, orient:'vertical', itemWidth:w, itemHeight:2, itemGap:1, padding:0,
    selectedMode:false, icon:'rect',
    formatter:function(n){ return LBL[n.slice(1)]; },
    textStyle:{fontFamily:SERIF, fontStyle:'italic', fontWeight:'bold', fontSize:12, color:'#111', lineHeight:14, rich:legRich}};
}
const legend = [
  LEG(['0g','0u','0d','0s'], 82, 49, 18),
  LEG(['1g','1u','1d','1s'], 428, 49, 17),
  LEG(['2uv','2dv','2sm','2cb'], 237, 280, 22),
  LEG(['3uv','3dv','3sm','3cb'], 428, 308, 17)
];

const titleRich = {
  m:{fontFamily:SERIF, fontStyle:'italic', fontWeight:'bold', fontSize:17, color:'#111', lineHeight:20, verticalAlign:'bottom'},
  d:{fontFamily:SERIF, fontWeight:'bold', fontSize:10.5, color:'#111', lineHeight:14, verticalAlign:'bottom'}
};
const subRich = {
  m:{fontFamily:SERIF, fontStyle:'italic', fontSize:11, color:'#111', lineHeight:13, verticalAlign:'bottom'},
  d:{fontFamily:SERIF, fontSize:7.5, color:'#111', lineHeight:9, verticalAlign:'bottom'}
};
function T(text, left, top, big){
  return {text:text, left:left, top:top, padding:0,
    textStyle:{fontFamily:SERIF, fontWeight: big?'bold':'normal', fontSize: big?17:11, color:'#111', lineHeight: big?20:13, rich: big?titleRich:subRich}};
}
const T1 = 'NNLO, {m|μ}{d|0} → {m|μ}{d|1} → {m|μ}{d|0}';
const T2 = 'NNLO, {m|μ}{d|1} → {m|μ}{d|0} → {m|μ}{d|1}';
const SUB = '{m|μ}{d|0} = {m|m}{d|b}/2,  {m|μ}{d|1} = 1 TeV';
const title = [
  T(T1, 67, 5, true), T(SUB, 67, 25, false),
  T(T2, 413, 5, true), T(SUB, 413, 25, false),
  T(T1, 67, 264, true), T(SUB, 67, 284, false),
  T(T2, 413, 265, true), T(SUB, 413, 283, false)
];

const chart = echarts.init(document.getElementById('c'), null, {renderer:'canvas'});
chart.setOption({
  backgroundColor:'#fff', animation:false,
  grid: GRIDS.map(g => Object.assign({show:true, borderColor:'#222', borderWidth:1, containLabel:false}, g)),
  xAxis:xAxis, yAxis:yAxis, series:series, legend:legend, title:title
});
</script></body></html>
